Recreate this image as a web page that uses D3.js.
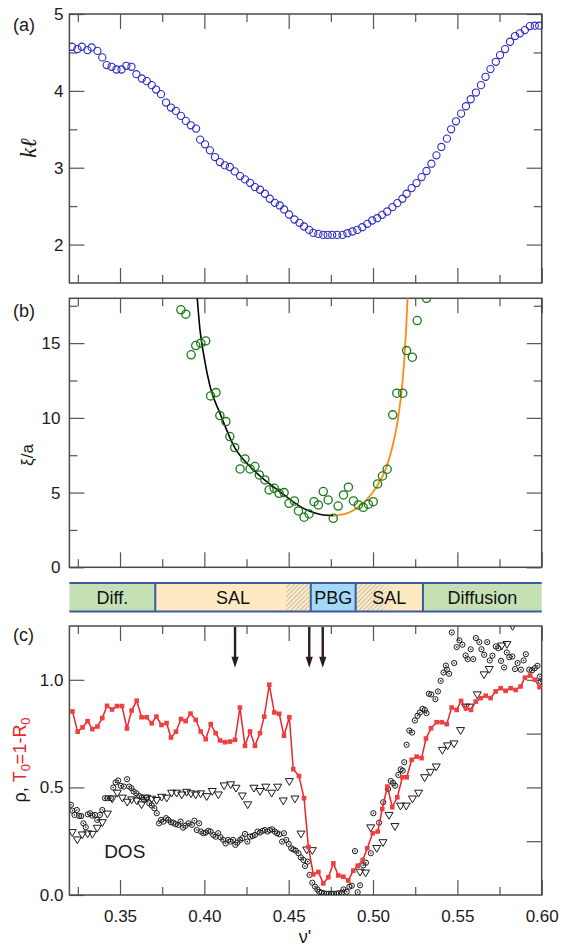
<!DOCTYPE html>
<html><head><meta charset="utf-8">
<script src="https://cdn.jsdelivr.net/npm/d3@7/dist/d3.min.js"></script>
<style>html,body{margin:0;padding:0;background:#fff;}svg{display:block;}</style>
</head><body>
<svg id="chart" width="563" height="948"></svg>
<script>
// ---------- DATA ----------
const xMajor = [0.35, 0.40, 0.45, 0.50, 0.55, 0.60];
const xMinor = [0.325, 0.375, 0.425, 0.475, 0.525, 0.575];

// panel (a): k*l
const nuA = [0.3215,0.3248,0.3274,0.3307,0.3332,0.3366,0.3395,0.3421,0.3450,0.3479,
0.3509,0.3538,0.3568,0.3597,0.3629,0.3659,0.3688,0.3714,0.3743,0.3773,
0.3802,0.3831,0.3861,0.3890,0.3920,0.3951,0.3975,0.4004,0.4033,0.4063,
0.4092,0.4122,0.4151,0.4180,0.4212,0.4241,0.4271,0.4300,0.4330,0.4359,
0.4388,0.4418,0.4447,0.4473,0.4502,0.4534,0.4564,0.4591,0.4621,0.4646,
0.4676,0.4705,0.4731,0.4758,0.4787,0.4819,0.4848,0.4878,0.4907,0.4936,
0.4966,0.4995,0.5025,0.5054,0.5084,0.5115,0.5144,0.5174,0.5199,0.5229,
0.5258,0.5288,0.5317,0.5346,0.5376,0.5405,0.5438,0.5463,0.5492,0.5522,
0.5551,0.5579,0.5610,0.5640,0.5667,0.5696,0.5728,0.5753,0.5783,0.5812,
0.5842,0.5871,0.5900,0.5930,0.5959,0.5985];
const klA = [4.574,4.543,4.574,4.530,4.565,4.520,4.435,4.335,4.313,4.278,
4.278,4.326,4.313,4.217,4.161,4.126,4.074,4.017,3.957,3.848,
3.783,3.739,3.674,3.609,3.552,3.509,3.365,3.304,3.226,3.139,
3.074,3.030,3.009,2.952,2.891,2.848,2.804,2.748,2.713,2.661,
2.596,2.543,2.509,2.457,2.391,2.326,2.283,2.235,2.191,2.152,
2.139,2.126,2.126,2.126,2.126,2.126,2.148,2.170,2.191,2.226,
2.270,2.313,2.343,2.387,2.430,2.487,2.539,2.596,2.661,2.735,
2.800,2.878,2.957,3.052,3.161,3.270,3.378,3.500,3.604,3.704,
3.800,3.891,3.978,4.074,4.183,4.283,4.378,4.465,4.543,4.639,
4.713,4.748,4.791,4.843,4.848,4.848];
const yTicksA = [2, 3, 4, 5];
const yMinorA = [2.5, 3.5, 4.5];

// panel (b): xi/a
const nuB = [0.3861,0.3890,0.3922,0.3949,0.3979,0.4008,0.4037,0.4069,0.4092,0.4128,
0.4151,0.4180,0.4212,0.4241,0.4271,0.4300,0.4326,0.4359,0.4384,0.4414,
0.4443,0.4473,0.4502,0.4534,0.4558,0.4591,0.4621,0.4650,0.4676,0.4705,
0.4734,0.4764,0.4793,0.4825,0.4854,0.4884,0.4913,0.4942,0.4972,0.5001,
0.5027,0.5056,0.5084,0.5117,0.5141,0.5176,0.5199,0.5233,0.5262,0.5317];
const xiB = [17.23,16.94,14.22,14.84,15.00,15.15,11.47,11.69,10.15,9.75,
8.75,8.01,6.58,7.25,6.58,6.74,6.18,5.85,5.18,5.29,
4.95,5.00,4.28,4.44,3.77,3.35,3.57,4.39,4.17,5.07,
4.51,3.28,4.10,4.84,5.36,4.44,4.17,4.01,4.22,4.39,
5.58,6.11,6.56,10.2,11.65,11.65,14.5,14.06,16.51,18.0];
const nuFitLow = [0.3958,0.3974,0.3998,0.4034,0.4093,0.4182,0.4271,0.4370,0.4449,0.4508,0.4567,0.4646,0.4705,0.4765];
const xiFitLow = [18.0,15.9,14.1,12.1,10.3,7.97,6.74,5.73,5.05,4.55,4.08,3.66,3.50,3.46];
const nuFitHigh = [0.4765,0.4844,0.4903,0.4962,0.5022,0.5081,0.5120,0.5150,0.5170,0.5184,0.5196,0.5205];
const xiFitHigh = [3.46,3.61,3.95,4.51,5.40,6.74,8.30,10.09,11.87,13.66,15.89,18.0];
const yTicksB = [0, 5, 10, 15];
const yMinorB = [2.5, 7.5, 12.5, 17.5];

// regime band
const bandEdges = [0.32, 0.3709, 0.4631, 0.4897, 0.5296, 0.60];
const bandLabels = ["Diff.", "SAL", "PBG", "SAL", "Diffusion"];
const bandKinds = ["diff", "sal", "pbg", "sal", "diff"];
const hatchRanges = [[0.4484, 0.4631], [0.4897, 0.5130]];

// panel (c)
const nuT0 = [0.3218,0.3249,0.3278,0.3308,0.3336,0.3366,0.3395,0.3423,0.3453,0.3482,
0.3512,0.3541,0.3569,0.3599,0.3628,0.3658,0.3688,0.3716,0.3746,0.3776,
0.3802,0.3832,0.3862,0.3889,0.3918,0.3949,0.3978,0.4008,0.4038,0.4067,
0.4093,0.4122,0.4152,0.4182,0.4211,0.4241,0.4271,0.4300,0.4330,0.4355,
0.4385,0.4415,0.4444,0.4472,0.4504,0.4527,0.4561,0.4591,0.4617,0.4646,
0.4676,0.4705,0.4735,0.4765,0.4794,0.4824,0.4853,0.4883,0.4909,0.4939,
0.4966,0.4998,0.5028,0.5055,0.5085,0.5114,0.5144,0.5174,0.5200,0.5229,
0.5259,0.5288,0.5314,0.5344,0.5377,0.5407,0.5437,0.5466,0.5496,0.5522,
0.5551,0.5581,0.5609,0.5638,0.5668,0.5697,0.5727,0.5757,0.5786,0.5816,
0.5846,0.5875,0.5901,0.5931,0.5960,0.5987];
const T0 = [0.853,0.759,0.779,0.808,0.771,0.783,0.822,0.879,0.862,0.878,
0.878,0.774,0.857,0.903,0.826,0.826,0.798,0.829,0.790,0.799,
0.732,0.759,0.818,0.808,0.843,0.814,0.760,0.724,0.794,0.752,
0.718,0.710,0.713,0.721,0.871,0.693,0.760,0.693,0.752,0.829,
0.977,0.848,0.842,0.740,0.826,0.585,0.553,0.450,0.223,0.096,
0.107,0.054,0.082,0.147,0.091,0.085,0.067,0.113,0.136,0.163,
0.217,0.287,0.295,0.400,0.504,0.408,0.454,0.547,0.547,0.628,
0.643,0.636,0.727,0.775,0.803,0.803,0.794,0.871,0.860,0.902,
0.868,0.860,0.899,0.915,0.926,0.915,0.946,0.961,0.949,0.961,
0.953,0.969,1.010,1.020,1.000,0.966];

const nuRho = [0.3217,0.3247,0.3276,0.3308,0.3336,0.3365,0.3395,0.3425,0.3454,0.3484,
0.3514,0.3543,0.3569,0.3599,0.3628,0.3658,0.3688,0.3717,0.3747,0.3777,
0.3806,0.3836,0.3866,0.3895,0.3921,0.3949,0.3978,0.4014,0.4047,0.4083,
0.4117,0.4156,0.4188,0.4225,0.4257,0.4294,0.4330,0.4364,0.4399,0.4435,
0.4468,0.4504,0.4537,0.4573,0.4607,0.4640,0.4923,0.4956,0.4986,0.5022,
0.5059,0.5095,0.5130,0.5163,0.5197,0.5234,0.5270,0.5306,0.5340,0.5375,
0.5411,0.5442,0.5480,0.5519,0.5549,0.5573,0.5618,0.5658,0.5689,0.5763,
0.5794,0.5827];
const rho = [0.290,0.256,0.279,0.284,0.282,0.310,0.336,0.376,0.446,0.473,
0.450,0.431,0.442,0.437,0.419,0.450,0.445,0.439,0.454,0.450,
0.473,0.473,0.465,0.477,0.470,0.465,0.470,0.457,0.481,0.465,
0.507,0.512,0.496,0.460,0.419,0.496,0.481,0.501,0.473,0.501,
0.437,0.527,0.446,0.283,0.209,0.206,0.106,0.102,0.312,0.216,
0.243,0.370,0.318,0.413,0.413,0.446,0.473,0.545,0.570,0.595,
0.672,0.693,0.702,0.764,0.873,0.873,0.930,1.023,1.048,1.157,
1.164,1.248];

const nuDOS = [0.3209,0.3218,0.3230,0.3244,0.3258,0.3270,0.3283,0.3297,0.3309,0.3323,
0.3336,0.3352,0.3365,0.3381,0.3395,0.3411,0.3426,0.3446,0.3460,0.3474,
0.3489,0.3505,0.3523,0.3542,0.3554,0.3568,0.3581,0.3597,0.3614,0.3629,
0.3643,0.3659,0.3674,0.3688,0.3704,0.3718,0.3731,0.3743,0.3757,0.3773,
0.3786,0.3802,0.3816,0.3829,0.3845,0.3859,0.3874,0.3888,0.3906,0.3926,
0.3941,0.3955,0.3969,0.3980,0.3994,0.4008,0.4023,0.4037,0.4053,0.4067,
0.4082,0.4096,0.4112,0.4126,0.4141,0.4155,0.4170,0.4184,0.4196,0.4212,
0.4225,0.4241,0.4255,0.4271,0.4286,0.4300,0.4316,0.4330,0.4345,0.4359,
0.4375,0.4388,0.4402,0.4418,0.4431,0.4445,0.4461,0.4472,0.4486,0.4500,
0.4515,0.4528,0.4542,0.4558,0.4572,0.4587,0.4597,0.4613,0.4624,0.4640,
0.4656,0.4670,0.4681,0.4695,0.4709,0.4724,0.4738,0.4753,0.4768,0.4783,
0.4797,0.4814,0.4825,0.4844,0.4860,0.4874,0.4893,0.4909,0.4923,0.4942,
0.4958,0.4987,0.5002,0.5036,0.5060,0.5089,0.5105,0.5119,0.5131,0.5150,
0.5164,0.5176,0.5185,0.5199,0.5215,0.5232,0.5248,0.5264,0.5278,0.5293,
0.5307,0.5317,0.5331,0.5345,0.5370,0.5385,0.5401,0.5418,0.5432,0.5438,
0.5451,0.5467,0.5481,0.5496,0.5512,0.5530,0.5549,0.5561,0.5579,0.5594,
0.5610,0.5630,0.5643,0.5659,0.5677,0.5692,0.5708,0.5728,0.5743,0.5759,
0.5777,0.5793,0.5808,0.5826,0.5842,0.5857,0.5877,0.5893,0.5906,0.5926,
0.5943,0.5959,0.5975,0.5989,0.5995];
const DOS = [0.419,0.392,0.372,0.395,0.367,0.367,0.333,0.315,0.375,0.380,
0.369,0.372,0.349,0.372,0.395,0.450,0.450,0.450,0.499,0.523,
0.532,0.507,0.504,0.538,0.504,0.496,0.481,0.473,0.460,0.454,
0.442,0.453,0.426,0.416,0.403,0.380,0.333,0.349,0.341,0.357,
0.349,0.338,0.336,0.329,0.326,0.341,0.313,0.322,0.333,0.326,
0.345,0.302,0.333,0.295,0.287,0.290,0.298,0.295,0.279,0.271,
0.287,0.268,0.256,0.240,0.256,0.248,0.256,0.233,0.244,0.256,
0.264,0.284,0.248,0.271,0.274,0.279,0.295,0.290,0.298,0.302,
0.295,0.302,0.305,0.295,0.287,0.282,0.248,0.287,0.256,0.237,
0.217,0.212,0.206,0.194,0.175,0.163,0.135,0.155,0.093,0.057,
0.039,0.026,0.015,0.011,0.008,0.006,0.006,0.006,0.006,0.006,
0.008,0.010,0.026,0.015,0.039,0.043,0.204,0.013,0.045,0.138,
0.150,0.194,0.380,0.336,0.431,0.493,0.530,0.520,0.508,0.558,
0.584,0.578,0.617,0.698,0.764,0.755,0.811,0.833,0.848,0.865,
0.860,0.845,0.935,0.932,0.910,0.946,0.995,1.034,1.066,1.047,
1.028,1.220,1.078,1.152,1.183,1.163,1.113,1.096,1.142,1.096,
1.194,1.175,1.142,1.116,1.175,1.090,1.112,1.155,1.147,1.088,
1.057,1.127,1.105,1.108,1.050,1.078,1.047,1.090,1.119,1.047,
1.044,1.054,1.065,1.015,0.992];
const yTicksC = [0, 0.5, 1.0];
const yRightC = [0.25, 0.5, 0.75, 1.0];
const arrowNu = [0.4182, 0.4622, 0.4702];
const arrowTip = 1.056;
const dosLabelAt = [0.3406, 0.172];

// ---------- DRAWING ----------
const FONT = "'Liberation Sans', Arial, Helvetica, sans-serif";
const RED = "#e8252a";
const svg = d3.select("#chart");
const L = 69.4, R = 541.7;
const x = d3.scaleLinear().domain([0.32, 0.60]).range([L, R]);
const yA = d3.scaleLinear().domain([1.5, 5]).range([283, 14]);
const yB = d3.scaleLinear().domain([0, 18]).range([567.3, 298.3]);
const yC = d3.scaleLinear().domain([0, 1.25]).range([895, 626]);
const defs = svg.append("defs");

function clip(id, y) {
  const [b, t] = y.range();
  defs.append("clipPath").attr("id", id).append("rect")
    .attr("x", L).attr("y", t).attr("width", R - L).attr("height", b - t);
}
clip("clipA", yA); clip("clipB", yB); clip("clipC", yC);

function axes(y, o) {
  const g = svg.append("g");
  const [bot, top] = y.range();
  const add = (axis, tr) => {
    const a = g.append("g").attr("transform", tr).call(axis);
    a.select(".domain").remove();
    a.selectAll(".tick line").attr("stroke", "#555").attr("stroke-width", 1.2);
    a.selectAll(".tick text").attr("font-family", FONT).attr("font-size", 17).attr("fill", "#1a1a1a");
    return a;
  };
  add(d3.axisTop(x).tickValues(xMajor).tickSize(-15).tickFormat(""), `translate(0,${top})`);
  add(d3.axisTop(x).tickValues(xMinor).tickSize(-8).tickFormat(""), `translate(0,${top})`);
  add(d3.axisBottom(x).tickValues(xMajor).tickSize(-15).tickPadding(15)
      .tickFormat(o.xLabels ? d3.format(".2f") : ""), `translate(0,${bot})`);
  add(d3.axisBottom(x).tickValues(xMinor).tickSize(-8).tickFormat(""), `translate(0,${bot})`);
  add(d3.axisLeft(y).tickValues(o.yMajor).tickSize(-15).tickPadding(o.pad).tickFormat(o.fmt), `translate(${L},0)`);
  if (o.yMinor) add(d3.axisLeft(y).tickValues(o.yMinor).tickSize(-8).tickFormat(""), `translate(${L},0)`);
  add(d3.axisRight(y).tickValues(o.rMajor).tickSize(-15).tickFormat(""), `translate(${R},0)`);
  if (o.rMinor) add(d3.axisRight(y).tickValues(o.rMinor).tickSize(-8).tickFormat(""), `translate(${R},0)`);
  g.append("rect").attr("x", L).attr("y", top).attr("width", R - L).attr("height", bot - top)
    .attr("fill", "none").attr("stroke", "#4a4a4a").attr("stroke-width", 1.5);
}

function label(txt, xx, yy, size) {
  return svg.append("text").attr("x", xx).attr("y", yy).attr("font-family", FONT)
    .attr("font-size", size).attr("fill", "#1a1a1a").text(txt);
}

// ---- Panel (a)
axes(yA, {yMajor: yTicksA, yMinor: yMinorA, rMajor: yTicksA, rMinor: yMinorA, pad: 6, fmt: d3.format("d")});
svg.append("g").attr("clip-path", "url(#clipA)").selectAll("circle")
  .data(d3.zip(nuA, klA)).join("circle")
  .attr("cx", d => x(d[0])).attr("cy", d => yA(d[1])).attr("r", 3.6)
  .attr("fill", "none").attr("stroke", "#2b2bc4").attr("stroke-width", 1.1);
label("(a)", 13, 31, 18);
svg.append("text").attr("transform", "translate(36,148) rotate(-90)")
  .attr("text-anchor", "middle").attr("font-family", "'Liberation Serif','DejaVu Serif',serif")
  .attr("font-style", "italic").attr("font-size", 23).attr("fill", "#1a1a1a").text("kℓ");

// ---- Panel (b)
axes(yB, {yMajor: yTicksB, yMinor: yMinorB, rMajor: yTicksB, rMinor: yMinorB, pad: 9, fmt: d3.format("d")});
const gB = svg.append("g").attr("clip-path", "url(#clipB)");
const lineB = d3.line().x(d => x(d[0])).y(d => yB(d[1])).curve(d3.curveMonotoneX);
gB.append("path").attr("d", lineB(d3.zip(nuFitLow, xiFitLow)))
  .attr("fill", "none").attr("stroke", "#000").attr("stroke-width", 1.6);
gB.append("path").attr("d", lineB(d3.zip(nuFitHigh, xiFitHigh)))
  .attr("fill", "none").attr("stroke", "#ff8a12").attr("stroke-width", 1.8);
gB.selectAll("circle").data(d3.zip(nuB, xiB)).join("circle")
  .attr("cx", d => x(d[0])).attr("cy", d => yB(d[1])).attr("r", 4.1)
  .attr("fill", "none").attr("stroke", "#187a18").attr("stroke-width", 1.3);
label("(b)", 13, 317, 18);
svg.append("text").attr("transform", "translate(33,455) rotate(-90)")
  .attr("text-anchor", "middle").attr("font-family", FONT).attr("font-size", 17)
  .attr("fill", "#1a1a1a").text("ξ/a");

// ---- Band
const bandTop = 583, bandBot = 611.5;
const bandFill = {diff: "#c6e0b5", sal: "#fde9c2", pbg: "#a3d9f6"};
const pat = defs.append("pattern").attr("id", "hatch").attr("patternUnits", "userSpaceOnUse")
  .attr("width", 3.2).attr("height", 3.2).attr("patternTransform", "rotate(45)");
pat.append("line").attr("x1", 0).attr("y1", 0).attr("x2", 0).attr("y2", 3.2)
  .attr("stroke", "#9a9a9a").attr("stroke-width", 1);
const grad = defs.append("linearGradient").attr("id", "fade").attr("x1", 0).attr("x2", 1).attr("y1", 0).attr("y2", 0);
grad.append("stop").attr("offset", "0%").attr("stop-color", "#fff");
grad.append("stop").attr("offset", "55%").attr("stop-color", "#fff");
grad.append("stop").attr("offset", "100%").attr("stop-color", "#000");
defs.append("mask").attr("id", "fadeMask").attr("maskContentUnits", "objectBoundingBox")
  .append("rect").attr("width", 1).attr("height", 1).attr("fill", "url(#fade)");

const band = svg.append("g");
bandLabels.forEach((lab, i) => {
  band.append("rect").attr("x", x(bandEdges[i])).attr("y", bandTop)
    .attr("width", x(bandEdges[i + 1]) - x(bandEdges[i])).attr("height", bandBot - bandTop)
    .attr("fill", bandFill[bandKinds[i]]);
});
hatchRanges.forEach((h, i) => {
  const r = band.append("rect").attr("x", x(h[0])).attr("y", bandTop)
    .attr("width", x(h[1]) - x(h[0])).attr("height", bandBot - bandTop).attr("fill", "url(#hatch)");
  if (i === 1) r.attr("mask", "url(#fadeMask)");
});
bandLabels.forEach((lab, i) => {
  band.append("text").attr("x", (x(bandEdges[i]) + x(bandEdges[i + 1])) / 2).attr("y", 603.5)
    .attr("text-anchor", "middle").attr("font-family", FONT).attr("font-size", 18)
    .attr("fill", "#111").text(lab);
});
const BLUE = "#3b5a9c";
band.append("line").attr("x1", L).attr("x2", R).attr("y1", bandTop).attr("y2", bandTop).attr("stroke", BLUE).attr("stroke-width", 2);
band.append("line").attr("x1", L).attr("x2", R).attr("y1", bandBot).attr("y2", bandBot).attr("stroke", BLUE).attr("stroke-width", 2);
bandEdges.slice(1, -1).forEach(e => {
  band.append("line").attr("x1", x(e)).attr("x2", x(e)).attr("y1", bandTop).attr("y2", bandBot)
    .attr("stroke", BLUE).attr("stroke-width", 2);
});

// ---- Panel (c)
axes(yC, {yMajor: yTicksC, rMajor: yRightC, pad: 6, fmt: d3.format(".1f"), xLabels: true});
const gC = svg.append("g").attr("clip-path", "url(#clipC)");
const dosG = gC.append("g");
d3.zip(nuDOS, DOS).forEach(d => {
  dosG.append("circle").attr("cx", x(d[0])).attr("cy", yC(d[1])).attr("r", 2.6)
    .attr("fill", "none").attr("stroke", "#1a1a1a").attr("stroke-width", 1);
  dosG.append("circle").attr("cx", x(d[0])).attr("cy", yC(d[1])).attr("r", 0.8).attr("fill", "#1a1a1a");
});
gC.append("g").selectAll("path").data(d3.zip(nuRho, rho)).join("path")
  .attr("d", d => { const cx = x(d[0]), cy = yC(d[1]);
    return `M${cx - 4},${cy - 3} L${cx + 4},${cy - 3} L${cx},${cy + 3.8} Z`; })
  .attr("fill", "none").attr("stroke", "#1a1a1a").attr("stroke-width", 1);
const dT = d3.zip(nuT0, T0);
gC.append("path").attr("d", d3.line().x(d => x(d[0])).y(d => yC(d[1]))(dT))
  .attr("fill", "none").attr("stroke", RED).attr("stroke-width", 1.5);
gC.append("g").selectAll("rect").data(dT).join("rect")
  .attr("x", d => x(d[0]) - 2.3).attr("y", d => yC(d[1]) - 2.3).attr("width", 4.6).attr("height", 4.6)
  .attr("fill", "#f03f3f");
arrowNu.forEach(v => {
  const ax = x(v), tip = yC(arrowTip);
  svg.append("line").attr("x1", ax).attr("x2", ax).attr("y1", yC(1.25) + 1).attr("y2", tip - 9)
    .attr("stroke", "#2c1c1c").attr("stroke-width", 2.4);
  svg.append("path").attr("d", `M${ax - 3.6},${tip - 11} L${ax + 3.6},${tip - 11} L${ax},${tip} Z`)
    .attr("fill", "#2c1c1c");
});
svg.append("text").attr("x", x(dosLabelAt[0])).attr("y", yC(dosLabelAt[1]))
  .attr("font-family", FONT).attr("font-size", 19).attr("fill", "#1a1a1a").text("DOS");
label("(c)", 13, 641, 18);
const yl = svg.append("text").attr("transform", "translate(26,760) rotate(-90)")
  .attr("text-anchor", "middle").attr("font-family", FONT).attr("font-size", 18);
yl.append("tspan").attr("fill", "#1a1a1a").text("ρ, ");
yl.append("tspan").attr("fill", RED).text("T");
yl.append("tspan").attr("fill", RED).attr("font-size", 13).attr("dy", 4).text("0");
yl.append("tspan").attr("fill", RED).attr("dy", -4).text("=1-R");
yl.append("tspan").attr("fill", RED).attr("font-size", 13).attr("dy", 4).text("0");
svg.append("text").attr("x", 305).attr("y", 943).attr("text-anchor", "middle")
  .attr("font-family", FONT).attr("font-size", 18).attr("fill", "#1a1a1a").text("ν'");
</script>
</body></html>
